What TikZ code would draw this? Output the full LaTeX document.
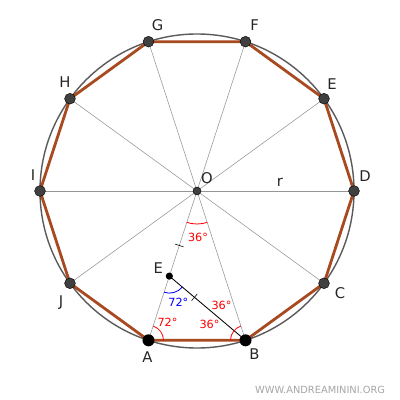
\documentclass[tikz,border=0pt]{standalone}
\usepackage{fontspec}
\setmainfont{DejaVu Sans}
\usetikzlibrary{calc,angles}
\definecolor{lato}{RGB}{168,74,32}
\definecolor{bordo}{RGB}{90,90,90}
\definecolor{raggio}{RGB}{150,150,150}
\definecolor{sito}{RGB}{165,165,165}
\begin{document}
\begin{tikzpicture}[x=0.25mm,y=0.25mm,
    vertice/.style={circle, fill=black!75, draw=black, line width=0.3pt, inner sep=0pt, minimum size=2.7mm},
    base/.style={circle, fill=black, inner sep=0pt, minimum size=3mm},
    lettera/.style={font=\fontsize{10.5}{12}\selectfont, text=black!85},
    ampiezza/.style={font=\fontsize{8}{9}\selectfont, text=red},
    arco/.style={draw=red, line width=0.6pt, angle radius=#1}]
    \useasboundingbox (-197,-209) rectangle (203,191);
    % centro e vertici del decagono
    \coordinate (O) at (0,0);
    \foreach \n/\a in {D/0,E/36,F/72,G/108,H/144,I/180,J/216,A/252,B/288,C/324}
        \coordinate (\n) at (\a:157);
    \coordinate (e) at ($(O)!0.57!(A)$);
    % circonferenza
    \draw[bordo, line width=1pt] (O) circle (157);
    % raggi
    \foreach \n in {A,B,C,D,E,F,G,H,I,J}
        \draw[raggio, line width=0.4pt] (O) -- (\n);
    \node[lettera] (r) at (83,9) {r};
    % lati
    \draw[lato, line width=2pt, line join=round] (D) -- (E) -- (F) -- (G) -- (H) -- (I) -- (J) -- (A) -- (B) -- (C) -- cycle;
    % bisettrice
    \draw[black, line width=0.6pt] (e) -- (B);
    % segni di uguaglianza
    \coordinate (t1) at ($(O)!0.64!(e)$);
    \coordinate (t2) at ($(e)!0.33!(B)$);
    \draw[line width=0.4pt] ($(t1)!1.1mm!90:(e)$) -- ($(t1)!1.1mm!-90:(e)$);
    \draw[line width=0.4pt] ($(t2)!1.1mm!90:(B)$) -- ($(t2)!1.1mm!-90:(B)$);
    % angoli
    \pic[arco=8.25mm] {angle = A--O--B};
    \pic[arco=3.75mm] {angle = B--A--O};
    \pic[arco=3.75mm] {angle = O--B--A};
    \pic[draw=blue, line width=0.6pt, angle radius=4.25mm] {angle = A--e--B};
    \node[ampiezza] (aO) at ($(O)+(1,-46)$) {36°};
    \node[ampiezza] (aA) at ($(A)+(19,18)$) {72°};
    \node[ampiezza] (aB1) at ($(B)+(-36,16)$) {36°};
    \node[ampiezza] (aB2) at ($(B)+(-24,35)$) {36°};
    \node[ampiezza, text=blue] (ae) at ($(e)+(9,-26)$) {72°};
    % punti
    \foreach \n in {C,D,E,F,G,H,I,J}
        \node[vertice] (p\n) at (\n) {};
    \node[base] (pA) at (A) {};
    \node[base] (pB) at (B) {};
    \node[vertice, minimum size=2mm] (pO) at (O) {};
    \node[circle, fill=black, inner sep=0pt, minimum size=1.8mm] (pe) at (e) {};
    % nomi
    \foreach \n/\dx/\dy in {G/9/17,F/9/17,E/8/15,D/11/15,C/16/-10,B/9/-14,A/-1/-17,J/-9/-19,I/-7/16,H/-5/17,O/10/13}
        \node[lettera] (l\n) at ($(\n)+(\dx,\dy)$) {\n};
    \node[lettera] (le) at ($(e)+(-11,8)$) {E};
    \node[font=\fontsize{7}{8}\selectfont, text=sito, anchor=east] (sito) at (193,-199) {WWW.ANDREAMININI.ORG};
\end{tikzpicture}
\end{document}
